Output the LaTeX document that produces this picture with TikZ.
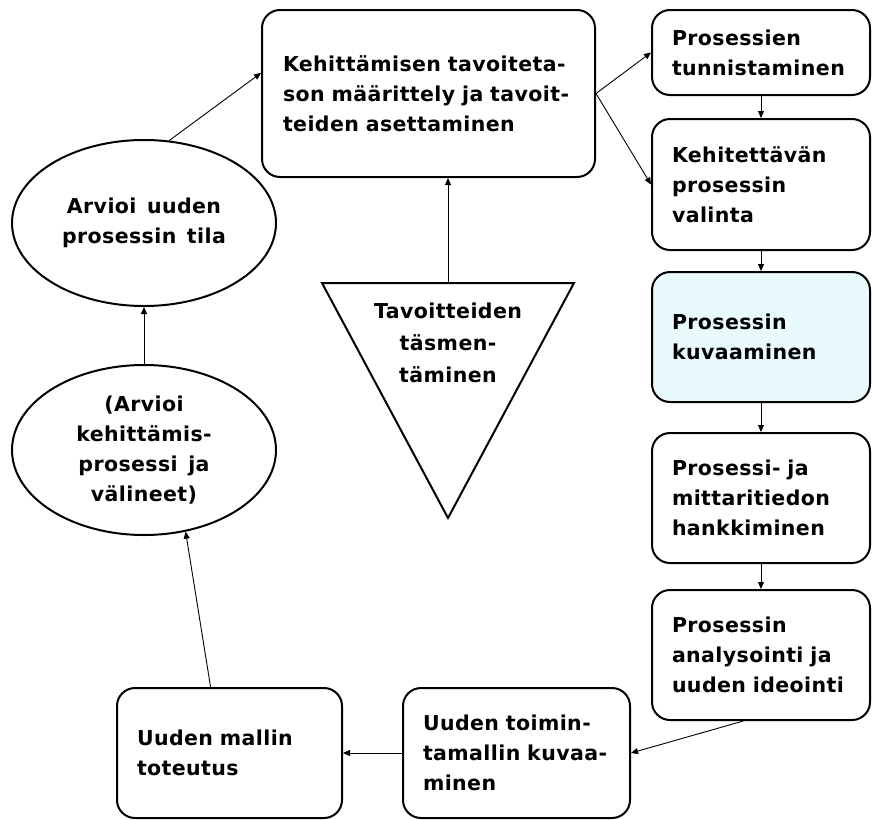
\documentclass[tikz,border=0pt]{standalone}
\usepackage{fontspec}
\setmainfont{DejaVu Sans}[LetterSpace=2, WordSpace=1.4]
\usepackage{tikz}
\usetikzlibrary{
  shapes.geometric,
  arrows.meta,
  positioning, calc
}
\usepackage{xcolor}
\definecolor{descfill}{RGB}{232,250,252}
\tikzset{
  % process step boxes
  stepbox/.style={
    rectangle, rounded corners=18pt,
    fill=white, draw=black, line width=2pt,
    text width=178pt, align=left,
    inner xsep=20pt, inner ysep=0pt,
    minimum height=130pt,
    font=\fontsize{20.5}{30}\selectfont\bfseries
  },
  % evaluation ellipses
  evalnode/.style={
    ellipse, fill=white, draw=black, line width=2pt,
    minimum width=264pt, align=center, inner sep=0pt,
    font=\fontsize{20.5}{30}\selectfont\bfseries
  },
  flowarrow/.style={
    -{Triangle[length=7pt, width=6pt]}, line width=0.9pt, draw=black
  }
}

\begin{document}
\begin{tikzpicture}[x=1pt, y=-1pt, node distance=22pt]
  \useasboundingbox (0,0) rectangle (872,819);

  % --- Goal setting ---
  \node[stepbox, text width=291pt, minimum height=167pt, inner xsep=21pt] (goal) at (428.5,93.5)
    {Kehittämisen tavoiteta-\\son määrittely ja tavoit-\\teiden asettaminen};

  % --- Right column ---
  \node[stepbox, minimum height=85pt] (ident) at (761,52.5) {Prosessien\\tunnistaminen};
  \node[stepbox, minimum height=131pt, below=22pt of ident] (choose) {Kehitettävän\\prosessin\\valinta};
  \node[stepbox, fill=descfill, below=20pt of choose] (describe) {Prosessin\\kuvaaminen};
  \node[stepbox, below=29pt of describe] (gather) {Prosessi- ja\\mittaritiedon\\hankkiminen};
  \node[stepbox, below=25pt of gather] (analyse) {Prosessin\\analysointi ja\\uuden ideointi};

  \foreach \a/\b in {ident/choose, choose/describe, describe/gather, gather/analyse}
    \draw[flowarrow] (\a) -- (\b);

  % --- Bottom row ---
  \node[stepbox, text width=187pt] (newmodel) at (516.5,753) {Uuden toimin-\\tamallin kuvaa-\\minen};
  \node[stepbox, text width=185pt, left=59pt of newmodel] (implement) {Uuden mallin\\toteutus};

  \draw[flowarrow] (analyse.255) -- (newmodel.east);
  \draw[flowarrow] (newmodel) -- (implement);

  % --- Evaluation ---
  \node[evalnode, minimum height=170pt] (evalproc) at (144,450)
    {(Arvioi\\kehittämis-\\prosessi ja\\välineet)};
  \node[evalnode, minimum height=166pt, above=57pt of evalproc] (evalstate)
    {Arvioi uuden\\prosessin tila};

  \draw[flowarrow] (implement.106) -- (evalproc.297);
  \draw[flowarrow] (evalproc) -- (evalstate);
  \draw[flowarrow] (evalstate.73) -- (goal.173);
  \draw[flowarrow] (goal.east) -- (ident.west);
  \draw[flowarrow] (goal.east) -- (choose.west);

  % --- Goal refinement triangle ---
  \coordinate (triL) at (322,283);
  \coordinate (triR) at (574,283);
  \coordinate (triB) at (448,518);
  \coordinate (tritop) at (448,283);
  \draw[fill=white, line width=2pt] (triL) -- (triR) -- (triB) -- cycle;
  \node[align=center, font=\fontsize{20.5}{32}\selectfont\bfseries] (refine) at (448,343)
    {Tavoitteiden\\täsmen-\\täminen};
  \draw[flowarrow] (tritop) -- (tritop |- goal.south);

\end{tikzpicture}
\end{document}
